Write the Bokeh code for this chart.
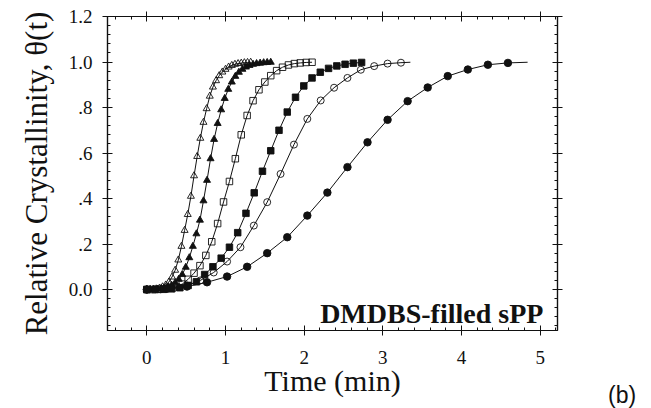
from bokeh.plotting import figure
from bokeh.layouts import row
from bokeh.models import (Range1d, LinearAxis, Label, FixedTicker, Div,
                          SingleIntervalTicker, CustomJSTickFormatter)
from bokeh.embed import file_html
from bokeh.resources import INLINE

# ---------------- data ----------------
# open triangles
ot_t = [0.00, 0.04, 0.08, 0.12, 0.16, 0.20, 0.24, 0.28, 0.32, 0.36, 0.40, 0.44,
        0.48, 0.52, 0.56, 0.60, 0.64, 0.68, 0.72, 0.76, 0.80, 0.84, 0.88, 0.92,
        0.96, 1.00, 1.04, 1.08, 1.12, 1.16, 1.20, 1.24, 1.28, 1.32]
ot_y = [0.000, 0.000, 0.001, 0.003, 0.006, 0.012, 0.020, 0.033, 0.055, 0.085,
        0.130, 0.190, 0.260, 0.330, 0.410, 0.500, 0.585, 0.665, 0.735, 0.795,
        0.850, 0.890, 0.918, 0.940, 0.956, 0.968, 0.978, 0.985, 0.990, 0.993,
        0.995, 0.997, 0.998, 0.999]
# filled triangles
ft_t = [0.000, 0.045, 0.090, 0.135, 0.180, 0.225, 0.270, 0.315, 0.360, 0.405,
        0.450, 0.495, 0.540, 0.585, 0.630, 0.675, 0.720, 0.765, 0.810, 0.855,
        0.900, 0.945, 0.990, 1.035, 1.080, 1.125, 1.170, 1.215, 1.260, 1.305,
        1.350, 1.395, 1.440, 1.485, 1.530, 1.575]
ft_y = [0.000, 0.000, 0.001, 0.002, 0.004, 0.007, 0.012, 0.019, 0.030, 0.045,
        0.066, 0.098, 0.140, 0.190, 0.245, 0.305, 0.390, 0.480, 0.575, 0.660,
        0.730, 0.790, 0.840, 0.880, 0.912, 0.937, 0.955, 0.968, 0.978, 0.985,
        0.990, 0.993, 0.995, 0.997, 0.998, 0.999]
# open squares
os_t = [0.000, 0.075, 0.150, 0.225, 0.300, 0.375, 0.450, 0.525, 0.600, 0.675,
        0.750, 0.825, 0.900, 0.975, 1.050, 1.125, 1.200, 1.275, 1.350, 1.425,
        1.500, 1.575, 1.650, 1.725, 1.800, 1.875, 1.950, 2.025, 2.100]
os_y = [0.000, 0.000, 0.001, 0.003, 0.007, 0.013, 0.024, 0.045, 0.072, 0.105,
        0.150, 0.210, 0.290, 0.385, 0.475, 0.575, 0.680, 0.765, 0.830, 0.878,
        0.912, 0.940, 0.962, 0.977, 0.987, 0.993, 0.996, 0.998, 0.999]
# filled squares
fs_t = [0.000, 0.105, 0.210, 0.315, 0.420, 0.525, 0.630, 0.735, 0.840, 0.945,
        1.050, 1.155, 1.260, 1.365, 1.470, 1.575, 1.680, 1.785, 1.890, 1.995,
        2.100, 2.205, 2.310, 2.415, 2.520, 2.625, 2.730]
fs_y = [0.000, 0.000, 0.001, 0.003, 0.008, 0.018, 0.034, 0.066, 0.100, 0.138,
        0.186, 0.250, 0.335, 0.425, 0.520, 0.610, 0.700, 0.780, 0.845, 0.895,
        0.930, 0.955, 0.972, 0.983, 0.990, 0.995, 0.998]
# open circles
oc_t = [0.00, 0.17, 0.34, 0.51, 0.68, 0.85, 1.02, 1.19, 1.36, 1.53, 1.70, 1.87,
        2.04, 2.21, 2.38, 2.55, 2.72, 2.89, 3.06, 3.23]
oc_y = [0.000, 0.001, 0.006, 0.018, 0.040, 0.075, 0.123, 0.186, 0.281, 0.384,
        0.508, 0.637, 0.750, 0.831, 0.887, 0.930, 0.966, 0.982, 0.993, 0.997]
# filled circles
fc_t = [0.000, 0.255, 0.510, 0.765, 1.020, 1.275, 1.530, 1.785, 2.040, 2.295,
        2.550, 2.805, 3.060, 3.315, 3.570, 3.825, 4.080, 4.335, 4.590]
fc_y = [0.000, 0.004, 0.013, 0.032, 0.057, 0.100, 0.160, 0.230, 0.325, 0.426,
        0.538, 0.647, 0.746, 0.828, 0.888, 0.938, 0.967, 0.988, 0.996]

# fitted-curve end points (curves run a little past the last symbol)
oc_fit_end_t, oc_fit_end_y = [3.35], [0.999]
fc_fit_end_t, fc_fit_end_y = [4.84], [0.999]

x_major = [0, 1, 2, 3, 4, 5]
y_major = [0.0, 0.2, 0.4, 0.6, 0.8, 1.0, 1.2]

SERIF = "Liberation Serif"
INK = "#111111"

MAIN_W = 567
TAG_W = 651 - MAIN_W

p = figure(width=MAIN_W, height=408, output_backend="svg", toolbar_location=None,
           x_range=Range1d(-0.5, 5.22), y_range=Range1d(-0.18, 1.2),
           min_border_left=107, min_border_right=10,
           min_border_top=16, min_border_bottom=78)
p.xgrid.visible = False
p.ygrid.visible = False
p.outline_line_color = INK
p.outline_line_width = 1.2
p.background_fill_color = "white"
p.border_fill_color = "white"

x_ticker = SingleIntervalTicker(interval=1, num_minor_ticks=5)
y_minor = [round(-0.16 + 0.04 * i, 2) for i in range(35)]
y_ticker = FixedTicker(ticks=y_major, minor_ticks=y_minor)

ylab_fmt = CustomJSTickFormatter(code="""
    if (Math.abs(tick) < 1e-9) { return '0.0'; }
    const s = tick.toFixed(1);
    return s.replace(/^0\\./, '.');
""")
blank_fmt = CustomJSTickFormatter(code="return '';")


def style_axis(ax, labels=True):
    ax.axis_line_color = INK
    ax.axis_line_width = 1.2
    ax.major_tick_line_color = INK
    ax.minor_tick_line_color = INK
    ax.major_tick_in = 5
    ax.major_tick_out = 5
    ax.minor_tick_in = 3
    ax.minor_tick_out = 0
    ax.major_label_text_font = SERIF
    ax.major_label_text_color = INK
    if not labels:
        ax.formatter = blank_fmt
        ax.major_label_standoff = 0


xa = p.xaxis[0]
xa.ticker = x_ticker
style_axis(xa)
xa.major_label_text_font_size = "19px"
xa.major_label_standoff = 15
xa.axis_label = "Time (min)"
xa.axis_label_text_font = SERIF
xa.axis_label_text_font_style = "normal"
xa.axis_label_text_font_size = "30px"
xa.axis_label_text_color = INK
xa.axis_label_standoff = -3

ya = p.yaxis[0]
ya.ticker = y_ticker
ya.formatter = ylab_fmt
style_axis(ya)
ya.major_label_text_font_size = "19px"
ya.major_label_standoff = 10
ya.axis_label = "Relative Crystallinity, θ(t)"
ya.axis_label_text_font = SERIF
ya.axis_label_text_font_style = "normal"
ya.axis_label_text_font_size = "31px"
ya.axis_label_text_color = INK
ya.axis_label_standoff = 12

top = LinearAxis(ticker=SingleIntervalTicker(interval=1, num_minor_ticks=5))
style_axis(top, labels=False)
p.add_layout(top, "above")
right = LinearAxis(ticker=FixedTicker(ticks=y_major, minor_ticks=y_minor))
style_axis(right, labels=False)
p.add_layout(right, "right")

# fitted lines
p.line(ot_t, ot_y, line_color=INK, line_width=1)
p.line(ft_t, ft_y, line_color=INK, line_width=1)
p.line(os_t, os_y, line_color=INK, line_width=1)
p.line(fs_t, fs_y, line_color=INK, line_width=1)
p.line(oc_t + oc_fit_end_t, oc_y + oc_fit_end_y, line_color=INK, line_width=1)
p.line(fc_t + fc_fit_end_t, fc_y + fc_fit_end_y, line_color=INK, line_width=1)

# symbols
p.scatter(ot_t, ot_y, marker="triangle", size=7, line_color=INK,
          fill_color=None, line_width=0.9)
p.scatter(ft_t, ft_y, marker="triangle", size=7, line_color=INK,
          fill_color=INK, line_width=0.9)
p.scatter(os_t, os_y, marker="square", size=6.5, line_color=INK,
          fill_color=None, line_width=0.9)
p.scatter(fs_t, fs_y, marker="square", size=6.5, line_color=INK,
          fill_color=INK, line_width=0.9)
p.scatter(oc_t, oc_y, marker="circle", size=7, line_color=INK,
          fill_color=None, line_width=0.9)
p.scatter(fc_t, fc_y, marker="circle", size=7.5, line_color=INK,
          fill_color=INK, line_width=0.9)

p.add_layout(Label(x=5.04, y=-0.107, text="DMDBS-filled sPP",
                   text_align="right", text_baseline="alphabetic",
                   text_font=SERIF, text_font_style="bold",
                   text_font_size="28px", text_color=INK))

# panel tag "(b)" in the blank strip to the right of the plot
tag = Div(text=('<div style="position:relative; top:379px; left:36px; '
                'font-family:\'Liberation Sans\'; font-size:23px; '
                'line-height:1; color:#111111; white-space:nowrap;">(b)</div>'),
          width=TAG_W, height=408)

layout = row(p, tag, spacing=0)
open("out.html", "w").write(file_html(layout, INLINE))
